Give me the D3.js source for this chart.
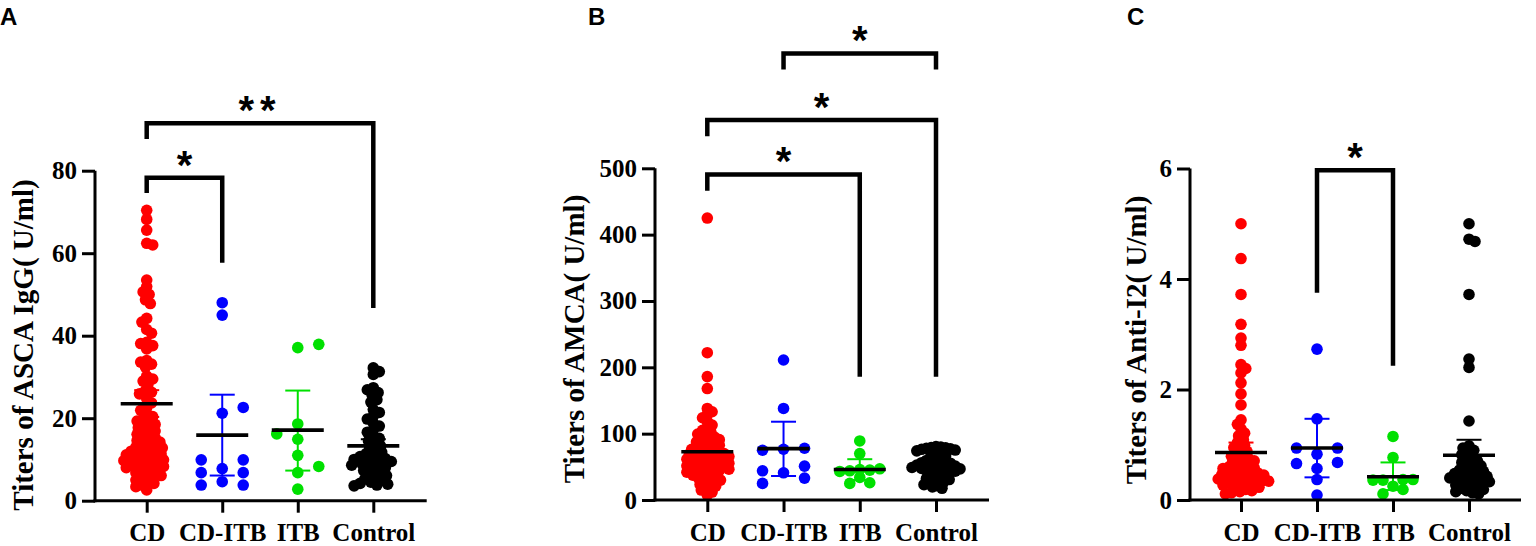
<!DOCTYPE html>
<html>
<head>
<meta charset="utf-8">
<script src="https://cdn.jsdelivr.net/npm/d3@7"></script>
<style>
html,body{margin:0;padding:0;background:#fff;}
svg{display:block;}
</style>
</head>
<body>
<svg id="chart" width="1536" height="546"></svg>
<script>
// ---------------- DATA ----------------
const categories = ["CD", "CD-ITB", "ITB", "Control"];
const groupColors = ["#ff0000", "#0000ff", "#00e000", "#000000"];

// Panel A: ASCA IgG (U/ml)
const asca_ticks = [0, 20, 40, 60, 80];
const asca_CD = [70.4, 68.2, 65.6, 62.4, 62.0, 53.5, 51.9, 50.6, 50.0, 48.7, 47.8, 44.2, 43.3, 41.5, 40.6, 38.4, 38.1, 37.6, 36.8, 34.0, 33.6, 33.1, 32.4, 30.2, 29.5, 29.0, 28.1, 26.7, 26.3, 25.9, 24.8, 23.7, 22.6, 21.9, 21.1, 20.4, 19.8, 19.3, 19.0, 18.5, 18.1, 17.7, 17.2, 16.9, 16.4, 16.1, 15.6, 15.3, 14.9, 14.6, 14.2, 13.9, 13.7, 13.3, 13.0, 12.8, 12.5, 12.2, 12.0, 11.8, 11.5, 11.3, 11.1, 10.8, 10.6, 10.4, 10.1, 9.9, 9.7, 9.4, 9.2, 9.0, 8.7, 8.5, 8.3, 8.0, 7.7, 7.4, 7.1, 6.8, 6.4, 6.1, 5.7, 5.3, 5.0, 4.6, 4.2, 3.8, 3.4, 2.6];
const asca_CDITB = [48.0, 45.0, 21.2, 22.6, 7.8, 4.6, 9.9, 9.9, 6.8, 6.8, 3.8, 3.8];
const asca_ITB = [37.1, 37.9, 18.6, 14.9, 16.2, 11.0, 6.8, 8.3, 2.8];
const asca_Control = [32.2, 31.3, 30.6, 27.4, 26.9, 26.2, 25.6, 24.5, 23.9, 22.1, 21.4, 20.5, 19.8, 18.8, 18.1, 17.2, 16.6, 15.6, 15.1, 14.5, 13.9, 13.3, 12.7, 12.3, 11.8, 11.4, 11.0, 10.7, 10.5, 10.2, 10.0, 9.8, 9.5, 9.3, 9.1, 8.8, 8.6, 8.3, 8.0, 7.7, 7.3, 6.9, 6.5, 6.1, 5.7, 5.3, 4.9, 4.5, 4.2, 4.0, 3.8, 3.6];
const asca_mean = [23.5, 15.9, 17.1, 13.3];
const asca_ciLow = [20.3, 6.1, 7.3, 11.5];
const asca_ciHigh = [26.8, 25.7, 26.7, 14.9];
const asca_sig = [
  {from: "CD", to: "CD-ITB", top: 78.3, endL: 74.6, endR: 57.7, label: "*"},
  {from: "CD", to: "Control", top: 91.5, endL: 87.7, endR: 46.7, label: "**"}
];

// Panel B: AMCA (U/ml)
const amca_ticks = [0, 100, 200, 300, 400, 500];
const amca_CD = [425, 222, 186, 168, 138, 133, 129, 124, 118, 113, 109, 105, 102, 99.5, 97, 95, 93, 91, 89, 87.5, 86, 84, 82.5, 81, 79.5, 78, 76.5, 75.5, 74, 72.5, 71.5, 70, 69, 68, 66.5, 65.5, 64.5, 63.5, 62.5, 61.5, 60.5, 59.5, 58.5, 57.5, 56.5, 55.5, 54.5, 53.5, 52.5, 51.5, 50.5, 49.5, 48.5, 47.5, 46.5, 45.5, 44.5, 43, 42, 40.5, 39, 37.5, 36, 34, 32, 30, 28, 26, 23.5, 21, 18, 15, 12, 7.5];
const amca_CDITB = [211, 138, 76.5, 78, 75, 41, 51, 44, 33, 25];
const amca_ITB = [89, 70, 34, 46, 45, 44, 47, 43, 26, 25];
const amca_Control = [80.5, 79.8, 79.1, 78.6, 77.9, 77.2, 76.4, 75.3, 74.1, 72.6, 70.8, 68.9, 66.2, 64.7, 62.3, 60.8, 59.6, 58.1, 57.4, 56.2, 55.5, 54.1, 53.3, 52.6, 51.8, 51.1, 50.4, 49.7, 49.0, 48.2, 47.6, 46.9, 46.1, 45.3, 44.2, 43.6, 42.4, 41.1, 39.8, 38.2, 36.9, 35.3, 33.7, 32.1, 30.8, 29.2, 27.6, 26.3, 24.9, 23.1, 21.4, 19.8, 17.6];
const amca_mean = [72.8, 77.4, 46.0, 50.5];
const amca_ciLow = [63.0, 36.2, 30.1, 47.5];
const amca_ciHigh = [83.0, 118.0, 61.5, 53.5];
const amca_sig = [
  {from: "CD", to: "ITB", top: 490.8, endL: 466, endR: 185.8, label: "*"},
  {from: "CD", to: "Control", top: 572.7, endL: 548.5, endR: 185.8, label: "*"},
  {from: "CD-ITB", to: "Control", top: 673.2, endL: 649, endR: 649, label: "*"}
];

// Panel C: Anti-I2 (U/ml)
const i2_ticks = [0, 2, 4, 6];
const i2_CD = [5.0, 4.37, 3.72, 3.18, 2.93, 2.80, 2.45, 2.38, 2.30, 2.12, 1.92, 1.72, 1.45, 1.37, 1.29, 1.21, 1.16, 1.09, 1.04, 0.99, 0.95, 0.91, 0.88, 0.85, 0.81, 0.79, 0.76, 0.73, 0.71, 0.69, 0.66, 0.64, 0.62, 0.60, 0.58, 0.57, 0.55, 0.53, 0.52, 0.50, 0.49, 0.47, 0.46, 0.45, 0.44, 0.42, 0.41, 0.40, 0.39, 0.38, 0.36, 0.35, 0.34, 0.33, 0.32, 0.30, 0.28, 0.27, 0.25, 0.23, 0.21, 0.19, 0.17, 0.15, 0.13, 0.11];
const i2_CDITB = [2.73, 1.47, 0.83, 0.94, 0.94, 0.57, 0.68, 0.66, 0.37, 0.09];
const i2_ITB = [1.15, 0.77, 0.25, 0.37, 0.36, 0.37, 0.36, 0.19, 0.11];
const i2_Control = [5.0, 4.72, 4.68, 3.72, 2.55, 2.40, 1.43, 0.98, 0.94, 0.90, 0.86, 0.82, 0.78, 0.74, 0.71, 0.68, 0.65, 0.62, 0.59, 0.57, 0.54, 0.52, 0.50, 0.48, 0.46, 0.44, 0.43, 0.41, 0.40, 0.38, 0.36, 0.35, 0.33, 0.31, 0.29, 0.27, 0.25, 0.23, 0.21, 0.19, 0.17, 0.15, 0.13, 0.11];
const i2_mean = [0.86, 0.94, 0.42, 0.81];
const i2_ciLow = [0.68, 0.41, 0.18, 0.53];
const i2_ciHigh = [1.04, 1.47, 0.68, 1.09];
const i2_sig = [
  {from: "CD-ITB", to: "ITB", top: 5.97, endL: 3.75, endR: 2.43, label: "*"}
];

// ---------------- LAYOUT (positions / styles) ----------------
const panels = [
  {letter: "A", title: "Titers of ASCA IgG( U/ml)",
   groups: [asca_CD, asca_CDITB, asca_ITB, asca_Control], mean: asca_mean, lo: asca_ciLow, hi: asca_ciHigh, ticks: asca_ticks, sig: asca_sig,
   L: {axisX: 95, y0: 500.7, yTop: 170.7, x0: 146.7, x1: 373.3, xEnd: 426.7, titleX: 33, titleY: 345, letterX: 0},
   swarm: [[1.2, 5.9], [21, 11], [21, 11], [1.2, 6.2]]},
  {letter: "B", title: "Titers of AMCA( U/ml)",
   groups: [amca_CD, amca_CDITB, amca_ITB, amca_Control], mean: amca_mean, lo: amca_ciLow, hi: amca_ciHigh, ticks: amca_ticks, sig: amca_sig,
   L: {axisX: 655, y0: 500, yTop: 168.3, x0: 707.3, x1: 936, xEnd: 989, titleX: 584, titleY: 339, letterX: 588},
   swarm: [[1.2, 5.4], [21, 11], [10, 7.5], [1.2, 4.8]]},
  {letter: "C", title: "Titers of Anti-I2( U/ml)",
   groups: [i2_CD, i2_CDITB, i2_ITB, i2_Control], mean: i2_mean, lo: i2_ciLow, hi: i2_ciHigh, ticks: i2_ticks, sig: i2_sig,
   L: {axisX: 1190, y0: 500, yTop: 168.5, x0: 1241, x1: 1469, xEnd: 1521, titleX: 1146, titleY: 340, letterX: 1127},
   swarm: [[1.2, 5.6], [20.5, 11], [10, 9.5], [1.2, 5.8]]}
];

const DOT_R = 5.8;
const SERIF = "'Liberation Serif','Times New Roman',serif";
const SANS = "'Liberation Sans',Arial,sans-serif";

// greedy swarm layout: each value keeps its y, gets the smallest free x offset
function swarm(vals, y, step, minDist) {
  const placed = [];
  let nl = 0, nr = 0;
  vals.forEach(v => {
    const py = y(v);
    let dx = 0;
    for (let i = 0; i < 400; i++) {
      const cands = i === 0 ? [0] : (nl < nr ? [-i * step, i * step] : [i * step, -i * step]);
      let found = null;
      for (const c of cands) {
        if (placed.every(p => (p.dx - c) ** 2 + (p.y - py) ** 2 >= minDist * minDist)) { found = c; break; }
      }
      if (found !== null) { dx = found; break; }
    }
    if (dx < 0) nl++; else if (dx > 0) nr++;
    placed.push({v: v, dx: dx, y: py});
  });
  return placed;
}

const svg = d3.select("#chart");

panels.forEach(P => {
  const L = P.L;
  const g = svg.append("g");
  const y = d3.scaleLinear().domain(d3.extent(P.ticks)).range([L.y0, L.yTop]);
  const x = d3.scalePoint().domain(categories).range([L.x0, L.x1]);

  // dots
  P.groups.forEach((vals, gi) => {
    const pts = swarm(vals, y, P.swarm[gi][0], P.swarm[gi][1]);
    g.append("g").selectAll("circle").data(pts).join("circle")
      .attr("cx", d => x(categories[gi]) + d.dx)
      .attr("cy", d => d.y)
      .attr("r", DOT_R)
      .attr("fill", groupColors[gi]);
  });

  // error bars + mean lines
  categories.forEach((c, gi) => {
    const cx = x(c);
    const col = groupColors[gi];
    g.append("line").attr("x1", cx).attr("x2", cx).attr("y1", y(P.lo[gi])).attr("y2", y(P.hi[gi]))
      .attr("stroke", col).attr("stroke-width", 2);
    [P.lo[gi], P.hi[gi]].forEach(v => {
      g.append("line").attr("x1", cx - 12.5).attr("x2", cx + 12.5).attr("y1", y(v)).attr("y2", y(v))
        .attr("stroke", col).attr("stroke-width", 2);
    });
    g.append("line").attr("x1", cx - 26).attr("x2", cx + 26).attr("y1", y(P.mean[gi])).attr("y2", y(P.mean[gi]))
      .attr("stroke", "#000").attr("stroke-width", 3.6);
  });

  // y axis
  const yAxis = d3.axisLeft(y).tickValues(P.ticks).tickSize(13).tickSizeOuter(0).tickPadding(5).tickFormat(d3.format("d"));
  const ya = g.append("g").attr("transform", `translate(${L.axisX},0)`).call(yAxis);
  ya.select(".domain").attr("stroke-width", 3).attr("d", `M0,${L.y0 + 1.5}V${L.yTop}`);
  ya.selectAll(".tick line").attr("stroke-width", 3);
  ya.selectAll(".tick text").attr("font-family", SERIF).attr("font-weight", "bold").attr("font-size", 25).attr("fill", "#000");

  // x axis
  const xAxis = d3.axisBottom(x).tickSize(12).tickSizeOuter(0);
  const xa = g.append("g").attr("transform", `translate(0,${L.y0})`).call(xAxis);
  xa.select(".domain").remove();
  xa.append("line").attr("x1", L.axisX - 1.5).attr("x2", L.xEnd).attr("y1", 0).attr("y2", 0)
    .attr("stroke", "#000").attr("stroke-width", 3);
  xa.selectAll(".tick line").attr("stroke-width", 3);
  xa.selectAll(".tick text").attr("font-family", SERIF).attr("font-weight", "bold").attr("font-size", 25)
    .attr("fill", "#000").attr("y", 541 - L.y0).attr("dy", 0);

  // axis title
  g.append("text").attr("transform", `translate(${L.titleX},${L.titleY}) rotate(-90)`)
    .attr("text-anchor", "middle").attr("font-family", SERIF).attr("font-weight", "bold").attr("font-size", 29)
    .text(P.title);

  // panel letter
  g.append("text").attr("x", L.letterX).attr("y", 25).attr("font-family", SANS).attr("font-weight", "bold")
    .attr("font-size", 24).text(P.letter);

  // significance brackets
  P.sig.forEach(s => {
    const xl = x(s.from), xr = x(s.to);
    g.append("path")
      .attr("d", `M${xl},${y(s.endL)}V${y(s.top)}H${xr}V${y(s.endR)}`)
      .attr("fill", "none").attr("stroke", "#000").attr("stroke-width", 4.5);
    g.append("text").attr("x", (xl + xr) / 2).attr("y", y(s.top) + 1)
      .attr("text-anchor", "middle").attr("font-family", SANS).attr("font-weight", "bold").attr("font-size", 40)
      .attr("letter-spacing", s.label.length > 1 ? 6 : 0)
      .text(s.label);
  });
});
</script>
</body>
</html>
